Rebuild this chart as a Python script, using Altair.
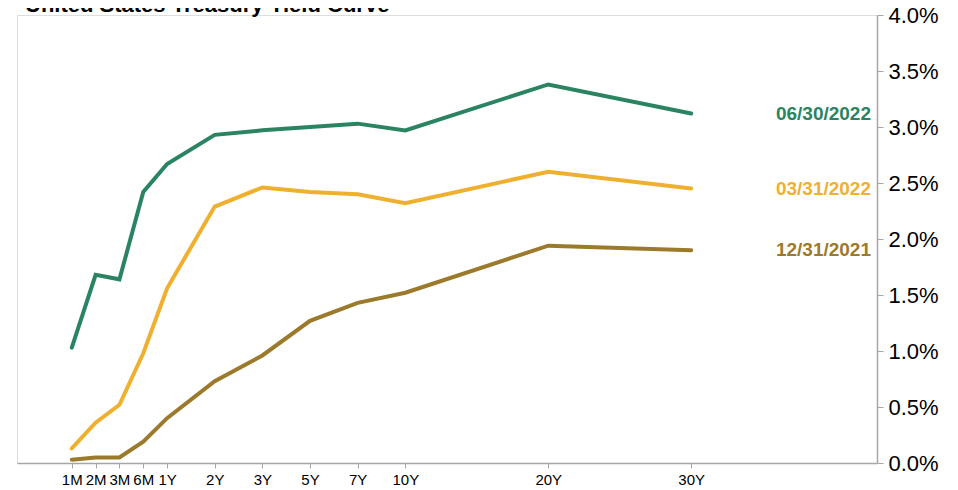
import altair as alt
import pandas as pd

# ---- data ----
maturities = ["1M", "2M", "3M", "6M", "1Y", "2Y", "3Y", "5Y", "7Y", "10Y", "20Y", "30Y"]
axis_pos = [0, 1, 2, 3, 4, 6, 8, 10, 12, 14, 20, 26]
series_names = ["06/30/2022", "03/31/2022", "12/31/2021"]
yields_jun22 = [1.03, 1.68, 1.64, 2.42, 2.67, 2.93, 2.97, 3.00, 3.03, 2.97, 3.38, 3.12]
yields_mar22 = [0.13, 0.36, 0.52, 0.98, 1.56, 2.29, 2.46, 2.42, 2.40, 2.32, 2.60, 2.45]
yields_dec21 = [0.03, 0.05, 0.05, 0.19, 0.40, 0.73, 0.96, 1.27, 1.43, 1.52, 1.94, 1.90]
series_colors = ["#2a8462", "#f0b02f", "#9c7a2b"]
y_ticks = [0.0, 0.5, 1.0, 1.5, 2.0, 2.5, 3.0, 3.5, 4.0]
title_text = "United States Treasury Yield Curve"

rows = []
for name, vals in zip(series_names, [yields_jun22, yields_mar22, yields_dec21]):
    for m, p, v in zip(maturities, axis_pos, vals):
        rows.append({"series": name, "maturity": m, "pos": p, "yield": v})
df = pd.DataFrame(rows)
last = df[df["maturity"] == maturities[-1]]

label_map = "{" + ",".join(f"'{p}':'{m}'" for p, m in zip(axis_pos, maturities)) + "}"

color_scale = alt.Scale(domain=series_names, range=series_colors)
x_scale = alt.Scale(domain=[-2.3, 33.8], nice=False, zero=False)
y_scale = alt.Scale(domain=[0, 4], nice=False)

x_enc = alt.X(
    "pos:Q",
    scale=x_scale,
    axis=alt.Axis(
        values=axis_pos,
        labelExpr=f"{label_map}[datum.value + '']",
        title=None,
        grid=False,
        domainColor="#a6a6a6",
        domainWidth=1.5,
        tickColor="#a6a6a6",
        tickSize=5,
        labelFont="Liberation Sans, Arial, sans-serif",
        labelFontSize=15,
        labelColor="#000000",
        labelPadding=4,
        labelFlush=False,
        labelOverlap=False,
    ),
)
y_enc = alt.Y(
    "yield:Q",
    scale=y_scale,
    axis=alt.Axis(
        orient="right",
        values=y_ticks,
        labelExpr="format(datum.value, '.1f') + '%'",
        title=None,
        grid=False,
        domainColor="#a6a6a6",
        domainWidth=1.5,
        tickColor="#a6a6a6",
        tickSize=6,
        labelFont="Liberation Sans, Arial, sans-serif",
        labelFontSize=22,
        labelColor="#000000",
        labelPadding=5,
        labelFlush=False,
        labelOverlap=False,
    ),
)

lines = alt.Chart(df).mark_line(strokeWidth=4, strokeCap="round").encode(
    x=x_enc,
    y=y_enc,
    color=alt.Color("series:N", scale=color_scale, legend=None),
    detail="series:N",
)

labels = alt.Chart(last).mark_text(
    align="right",
    baseline="middle",
    font="Liberation Sans, Arial, sans-serif",
    fontSize=19,
    fontWeight="bold",
).encode(
    x=alt.value(854),
    y=alt.Y("yield:Q", scale=y_scale),
    text="series:N",
    color=alt.Color("series:N", scale=color_scale, legend=None),
)

title = alt.Chart(pd.DataFrame({"t": [title_text]})).mark_text(
    align="left",
    baseline="alphabetic",
    font="Liberation Sans, Arial, sans-serif",
    fontSize=22,
    fontWeight="bold",
    color="#000000",
).encode(
    x=alt.value(8),
    y=alt.value(-3),
    text="t:N",
)

chart = (
    alt.layer(lines, labels, title)
    .properties(
        width=860,
        height=448,
        autosize=alt.AutoSizeParams(type="none"),
        padding={"left": 9, "top": 7, "right": 70, "bottom": 28},
    )
    .configure_view(stroke="#d9d9d9", strokeWidth=1.5)
    .configure(background="#ffffff")
)

chart.save("out.html", embed_options={"renderer": "svg", "actions": False})
